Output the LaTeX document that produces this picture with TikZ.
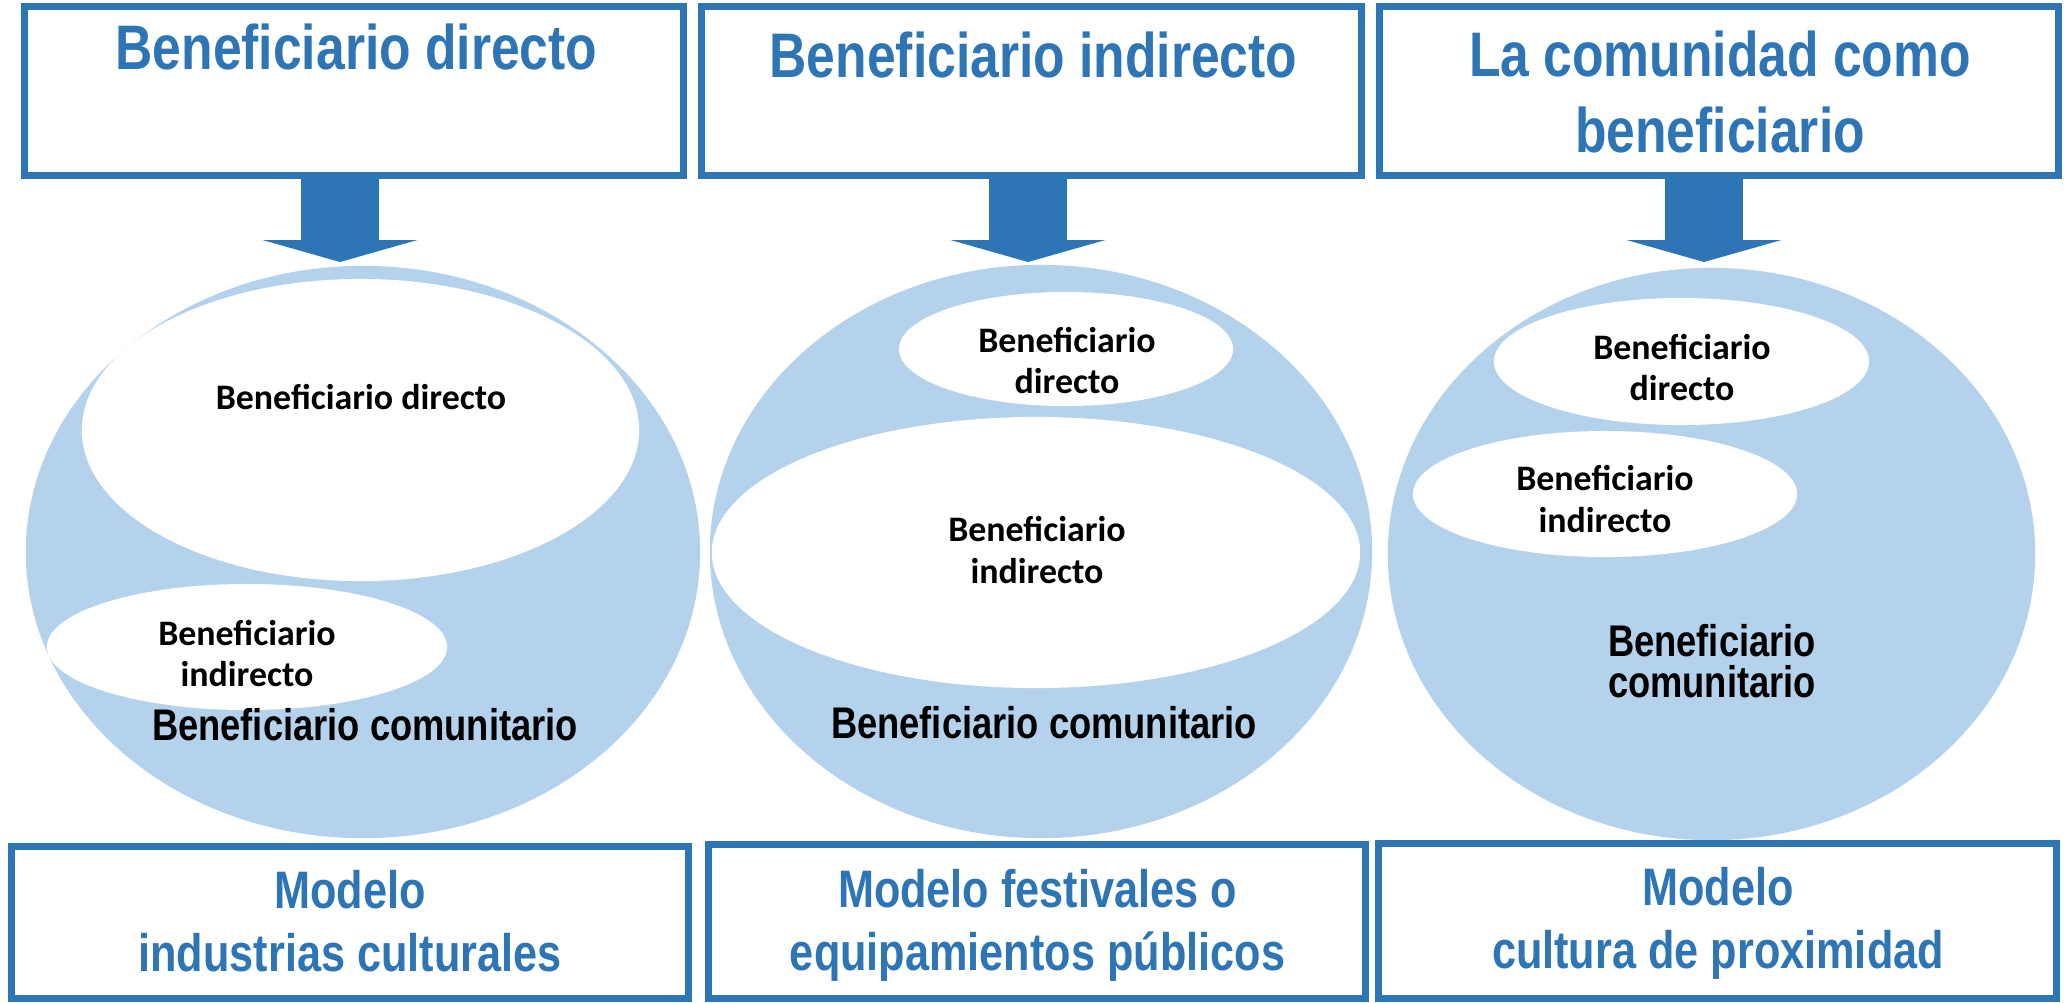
\documentclass[tikz,border=0pt]{standalone}
\usepackage{fontspec}
\setmainfont{Liberation Sans}
\newfontfamily\narrowsf[FakeStretch=0.82]{Liberation Sans}
\newfontfamily\carlitosf{Carlito}
\usetikzlibrary{arrows.meta,shapes.geometric}
\definecolor{boxblue}{RGB}{46,117,182}
\definecolor{paleblue}{RGB}{180,210,235}

\begin{document}
\begin{tikzpicture}[x=0.01cm, y=-0.01cm,
  framebox/.style={draw=boxblue, line width=0.07cm, inner sep=0pt},
  blob/.style={ellipse, fill=paleblue, inner sep=0pt},
  hole/.style={ellipse, fill=white, inner sep=0pt},
  titletext/.style={text=boxblue, align=center, font=\narrowsf\bfseries\fontsize{17.9}{21.6}\selectfont},
  modeltext/.style={text=boxblue, align=center, font=\narrowsf\bfseries\fontsize{15}{17.9}\selectfont},
  smalltext/.style={align=center, font=\carlitosf\bfseries\fontsize{10.2}{11.9}\selectfont},
  commtext/.style={align=center, font=\narrowsf\bfseries\fontsize{12.6}{11.7}\selectfont},
  downarrow/.style={boxblue, line width=0.78cm, -{Triangle[width=1.55cm, length=0.22cm, line width=0pt]}}]
\useasboundingbox (0,0) rectangle (2072,1002);
%%% blue circles and the white ellipses inside them
\foreach \n/\x/\y/\w/\h in {c1/363/552/6.74/5.72, c2/1041/551.5/6.62/5.73, c3/1711.5/554/6.47/5.72}{\node[blob, minimum width=\w cm, minimum height=\h cm] (\n) at (\x,\y) {};};
\foreach \n/\x/\y/\w/\h in {d1/360.5/430/5.57/3.02, i1/247/647/4.00/1.26, d2/1066/349/3.34/1.14, i2/1036/552.5/6.48/2.71, d3/1681.5/361.5/3.75/1.27, i3/1605/494/3.84/1.26}{\node[hole, minimum width=\w cm, minimum height=\h cm] (\n) at (\x,\y) {};};
\node[smalltext, anchor=base] (d1txt) at (361,409) {Beneficiario directo};
\node[smalltext] (i1txt) at (247,653.5) {Beneficiario\\indirecto};
\node[commtext, anchor=base] (c1txt) at (365,740) {Beneficiario comunitario};
\node[smalltext] (d2txt) at (1067,360.5) {Beneficiario\\directo};
\node[smalltext] (i2txt) at (1037,550) {Beneficiario\\indirecto};
\node[commtext, anchor=base] (c2txt) at (1044,738) {Beneficiario comunitario};
\node[smalltext] (d3txt) at (1682,367.5) {Beneficiario\\directo};
\node[smalltext] (i3txt) at (1605,499) {Beneficiario\\indirecto};
\node[commtext] (c3txt) at (1712,661.5) {Beneficiario\\comunitario};
%%% frames
\foreach \n/\x/\y/\w/\h in {t1/354/91/6.58/1.68, t2/1031.5/91/6.59/1.68, t3/1719/91/6.78/1.68, m1/350/922.5/6.76/1.51, m2/1037/921.5/6.56/1.53, m3/1717.5/921/6.77/1.54}{\node[framebox, minimum width=\w cm, minimum height=\h cm] (\n) at (\x,\y) {};};
\node[titletext, anchor=base] (t1txt) at (356.5,69) {Beneficiario directo};
\node[titletext, anchor=base] (t2txt) at (1033.5,77) {Beneficiario indirecto};
\node[titletext] (t3txt) at (1720,92) {La comunidad como\\beneficiario};
\node[modeltext] (m1txt) at (350,921) {Modelo\\industrias culturales};
\node[modeltext] (m2txt) at (1037.5,925) {Modelo festivales o\\equipamientos públicos};
\node[modeltext] (m3txt) at (1718,923) {Modelo\\cultura de proximidad};
%%% arrows from the titles down to the circles
\coordinate (a1) at (340,262);
\coordinate (a2) at (1028,262);
\coordinate (a3) at (1704,262);
\foreach \t/\a in {t1/a1, t2/a2, t3/a3}{\draw[downarrow] (\a |- \t.south) -- (\a);};
\end{tikzpicture}
\end{document}
